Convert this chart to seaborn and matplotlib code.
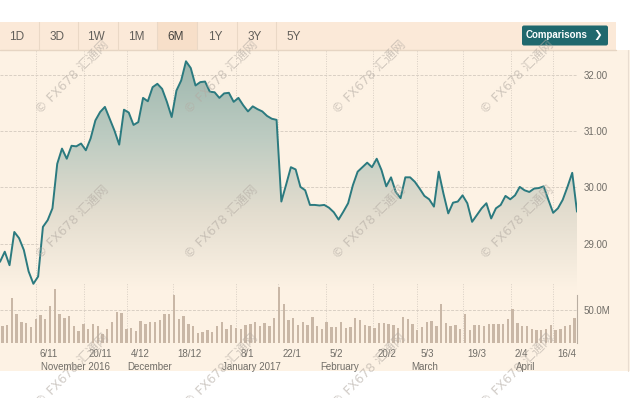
import numpy as np
import matplotlib
matplotlib.use("Agg")
import matplotlib.pyplot as plt
import seaborn as sns
from matplotlib.patches import Rectangle, Polygon, FancyBboxPatch
from matplotlib.colors import LinearSegmentedColormap

# daily closes, 26 Oct 2016 .. 21 Apr 2017 (trading days)
prices = [
    28.68, 28.86, 28.62, 29.21, 29.10, 28.89, 28.51, 28.29, 28.42, 29.30,
    29.42, 29.63, 30.42, 30.69, 30.51, 30.74, 30.73, 30.78, 30.66, 30.87,
    31.19, 31.34, 31.43, 31.22, 31.01, 30.76, 31.38, 31.33, 31.11, 31.16,
    31.59, 31.53, 31.78, 31.84, 31.75, 31.52, 31.25, 31.72, 31.90, 32.24,
    32.12, 31.81, 31.87, 31.88, 31.70, 31.69, 31.59, 31.67, 31.68, 31.52,
    31.59, 31.46, 31.35, 31.44, 31.39, 31.35, 31.27, 31.22, 31.20, 29.75,
    30.05, 30.36, 30.32, 30.01, 29.95, 29.69, 29.69, 29.68, 29.69, 29.64,
    29.56, 29.43, 29.57, 29.72, 30.04, 30.28, 30.36, 30.44, 30.36, 30.51,
    30.31, 30.02, 30.18, 29.92, 29.81, 30.18, 30.18, 30.10, 29.98, 29.85,
    29.79, 29.66, 30.28, 29.89, 29.54, 29.73, 29.75, 29.86, 29.72, 29.39,
    29.51, 29.63, 29.72, 29.45, 29.63, 29.69, 29.85, 29.79, 29.86, 30.01,
    29.95, 29.92, 29.98, 29.99, 30.02, 29.78, 29.55, 29.63, 29.78, 30.01,
    30.26, 29.57,
]

# volume in millions
volumes = [
    25, 26.5, 68, 44, 32, 30.5, 24, 36.5, 41.5, 36.5,
    55, 81.5, 43, 38, 40, 25.5, 17.5, 28, 21.5, 28,
    25, 14, 21.5, 31.5, 46, 45, 21.5, 22.5, 18, 33,
    29, 31.5, 31.5, 34, 44, 44, 72, 35.5, 40, 29,
    25, 15.5, 16.5, 19, 16.5, 25.5, 31.5, 20.5, 26.5, 22.5,
    21.5, 27.5, 29, 31.5, 25, 30, 25, 38, 84, 59,
    34, 38, 27.5, 31.5, 26.5, 39, 25, 21.5, 31.5, 24,
    24, 31.5, 23, 24, 37.5, 35, 26.5, 25.5, 22.5, 30.5,
    30.5, 29, 27.5, 23, 39, 36.5, 28, 20, 24, 31.5,
    33, 25.5, 59, 30.5, 25, 26.5, 20.5, 44, 19, 27.5,
    26.5, 25.5, 29, 29, 28, 29, 36.5, 51.5, 30.5, 25.5,
    25.5, 21.5, 19, 19, 21.5, 27.5, 20, 21.5, 25.5, 27.5,
    37.5,
]

tick_pos = [7.5, 17.6, 26.6, 36.3, 49.5, 58.3, 68.3, 78.2, 87.4, 97.1, 107.1, 115.9]
tick_labels = ["6/11", "20/11", "4/12", "18/12", "8/1", "22/1",
               "5/2", "20/2", "5/3", "19/3", "2/4", "16/4"]
month_pos = [8.5, 26.6, 46.5, 67.2, 86.3, 108.2]
month_labels = ["November 2016", "December", "January 2017", "February", "March", "April"]
price_ticks = [29, 30, 31, 32]
range_buttons = ["1D", "3D", "1W", "1M", "6M", "1Y", "3Y", "5Y"]
watermark = "\u00a9 FX678 汇通网"

CREAM = "#fdf2e4"
TOOLBAR = "#fbe9d8"
ACTIVE = "#f7dfc9"
LINE = "#2b7a7f"
BAR = "#c9b7a6"
GRID = "#d9cfc4"
TEXT = "#706d67"
BUTTON = "#20686d"

sns.set_style("white")
plt.rcParams["font.family"] = ["Liberation Sans", "DejaVu Sans"]

W, H = 630, 398


def rect(x0, y0, x1, y1):
    return [x0 / W, 1 - y1 / H, (x1 - x0) / W, (y1 - y0) / H]


fig = plt.figure(figsize=(6.3, 3.98), dpi=100, facecolor="white")

# page furniture: background, range selector, comparisons button
bg = fig.add_axes([0, 0, 1, 1], zorder=0)
bg.set_xlim(0, W)
bg.set_ylim(H, 0)
bg.axis("off")
bg.add_patch(Rectangle((0, 50), W, 321, color=CREAM, lw=0))
bg.add_patch(Rectangle((0, 22), 616, 28, color=TOOLBAR, lw=0))
bg.add_patch(Rectangle((157, 22), 40, 28, color=ACTIVE, lw=0))
bg.plot([0, 616], [50, 50], color="#e6d5c3", lw=1)
bg.plot([628, 628], [50, 371], color="#e9ddd0", lw=0.8)
for i, lab in enumerate(range_buttons):
    cx = 17 + 39.6 * i
    bg.text(cx, 36.5, lab, ha="center", va="center", fontsize=8.5,
            color="#45433f" if lab == "6M" else "#625f5a",
            family=["Liberation Sans Narrow", "Liberation Sans"])
    if i < len(range_buttons) - 1:
        bg.plot([cx + 21.5, cx + 21.5], [22, 50], color="#ead8c6", lw=0.8)
bg.add_patch(FancyBboxPatch((522, 25.5), 86, 20, boxstyle="round,pad=0,rounding_size=2",
                            color=BUTTON, lw=0))
bg.text(557, 35.5, "Comparisons", ha="center", va="center", fontsize=7,
        color="white", fontweight="bold")
bg.text(598, 35.5, "\u276f", ha="center", va="center", fontsize=7.5,
        color="white", fontweight="bold", family=["DejaVu Sans"])

# price panel
x = np.arange(len(prices))
ax = fig.add_axes(rect(0, 50, 577, 290), zorder=2)
ax.set_facecolor("none")
ylo, yhi = 28.18, 32.44

grad = np.linspace(0, 1, 256).reshape(-1, 1)
cmap = LinearSegmentedColormap.from_list("fill", [CREAM, "#e3ddcf", "#bccbc1", "#9cb6ad"])
im = ax.imshow(grad, extent=[0, x[-1], ylo, 32.3], origin="lower", aspect="auto",
               cmap=cmap, zorder=1)
poly = Polygon(np.vstack([[0, ylo], np.column_stack([x, prices]), [x[-1], ylo]]),
               closed=True, facecolor="none", edgecolor="none", transform=ax.transData)
ax.add_patch(poly)
im.set_clip_path(poly)

sns.lineplot(x=x, y=prices, ax=ax, color=LINE, linewidth=1.4, zorder=3)
ax.set_xlim(0, x[-1])
ax.set_ylim(ylo, yhi)
ax.yaxis.tick_right()
ax.set_yticks(price_ticks)
ax.set_yticklabels([f"{v:.2f}" for v in price_ticks])
ax.set_xticks(tick_pos)
ax.set_xticklabels([])
ax.tick_params(axis="both", length=0, labelsize=7, labelcolor=TEXT, pad=5)
ax.grid(True, axis="y", color=GRID, lw=0.7, ls=(0, (3, 1.5)))
ax.grid(True, axis="x", color=GRID, lw=0.7, ls=(0, (1, 1.5)))
ax.set_axisbelow(True)
for s in ax.spines.values():
    s.set_visible(False)
ax.set_xlabel("")
ax.set_ylabel("")

# volume panel
av = fig.add_axes(rect(0, 283, 577, 343), zorder=3)
av.set_facecolor("none")
av.bar(np.arange(len(volumes)) + 0.5, volumes, width=0.5, color=BAR, lw=0)
vtop = 50 * 60 / 33.4
av.set_xlim(0, x[-1])
av.set_ylim(0, vtop)
av.yaxis.tick_right()
av.set_yticks([50])
av.set_yticklabels(["50.0M"])
av.set_xticks(tick_pos)
av.set_xticklabels([])
av.tick_params(axis="y", length=0, labelsize=7, labelcolor=TEXT, pad=5)
av.tick_params(axis="x", length=4, width=0.7, color="#b9aea2", direction="out")
av.grid(True, axis="y", color=GRID, lw=0.7, ls=(0, (3, 1.5)))
av.grid(True, axis="x", color=GRID, lw=0.7, ls=(0, (1, 1.5)))
av.set_axisbelow(True)
for s in av.spines.values():
    s.set_visible(False)
av.spines["right"].set_visible(True)
av.spines["right"].set_color("#b9aea2")
av.spines["right"].set_linewidth(0.8)
av.spines["right"].set_bounds(0, 50 * 48 / 33.4)

for pos, lab in zip(tick_pos, tick_labels):
    av.annotate(lab, xy=(pos, 0), xycoords=("data", "axes fraction"),
                xytext=(3, -4.5), textcoords="offset points",
                ha="left", va="top", fontsize=7, color=TEXT)
for pos, lab in zip(month_pos, month_labels):
    av.annotate(lab, xy=(pos, 0), xycoords=("data", "axes fraction"),
                xytext=(0, -13.5), textcoords="offset points",
                ha="left", va="top", fontsize=7, color=TEXT)

# site watermark (bottom row runs off the page, as in the source)
wm = fig.add_axes([0, 0, 1, 1], zorder=10)
wm.set_xlim(0, W)
wm.set_ylim(H, 0)
wm.axis("off")
for cy in [77, 222, 370]:
    for cx in [72, 221, 369, 517]:
        wm.text(cx, cy, watermark, rotation=45, ha="center", va="center",
                fontsize=9, color="#b3aba3", alpha=0.6,
                family=["DejaVu Sans", "Noto Sans CJK SC"])

fig.savefig("out.png", dpi=100, facecolor="white")
